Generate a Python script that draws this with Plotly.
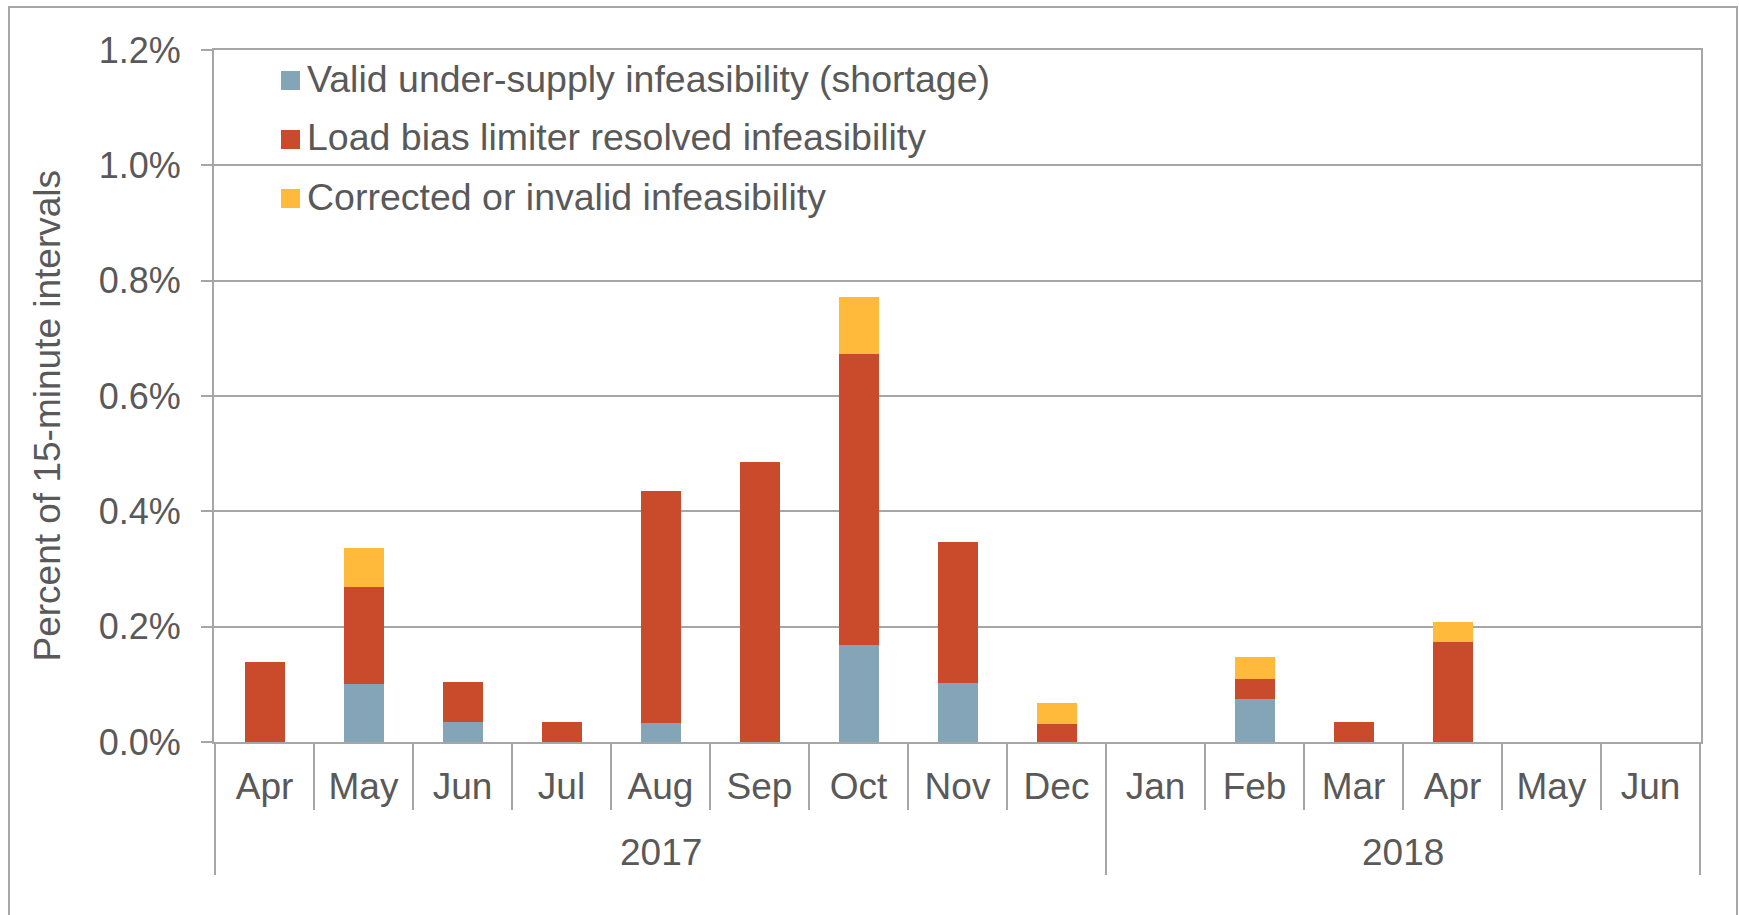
import plotly.graph_objects as go

# Monthly share of 15-minute intervals with infeasibilities (percent)
years = ["2017"] * 9 + ["2018"] * 6
months = ["Apr", "May", "Jun", "Jul", "Aug", "Sep", "Oct", "Nov", "Dec",
          "Jan", "Feb", "Mar", "Apr", "May", "Jun"]
categories = [f"{m} {y}" for m, y in zip(months, years)]

valid_shortage = [0.0, 0.101, 0.034, 0.0, 0.033, 0.0, 0.168, 0.103, 0.0,
                  0.0, 0.075, 0.0, 0.0, 0.0, 0.0]
load_bias = [0.139, 0.168, 0.070, 0.034, 0.403, 0.486, 0.504, 0.243, 0.032,
             0.0, 0.035, 0.034, 0.173, 0.0, 0.0]
corrected_invalid = [0.0, 0.067, 0.0, 0.0, 0.0, 0.0, 0.100, 0.0, 0.035,
                     0.0, 0.037, 0.0, 0.035, 0.0, 0.0]

series_names = ["Valid under-supply infeasibility (shortage)",
                "Load bias limiter resolved infeasibility",
                "Corrected or invalid infeasibility"]
series_colors = ["#84A5B8", "#C94B2B", "#FFB93B"]
series_values = [valid_shortage, load_bias, corrected_invalid]

y_ticks = [0.0, 0.2, 0.4, 0.6, 0.8, 1.0, 1.2]

W, H = 1739, 915
ML, MR, MT, MB = 214, 38, 50, 173
PW, PH = W - ML - MR, H - MT - MB

FONT = "Liberation Sans, Arial, sans-serif"
TXT = "#595959"
GRID = "#A6A6A6"


def px_x(px):
    return (px - ML) / PW


def px_y(py):
    return (H - MB - py) / PH


fig = go.Figure()
for name, color, vals in zip(series_names, series_colors, series_values):
    fig.add_trace(go.Bar(
        x=categories, y=vals, name=name,
        marker=dict(color=color, line=dict(width=0)),
        showlegend=False,
    ))

shapes = []
annotations = []

# Outer chart frame
shapes.append(dict(type="rect", xref="paper", yref="paper",
                   x0=px_x(9), x1=px_x(1737), y0=px_y(925), y1=px_y(7),
                   line=dict(color=GRID, width=2), fillcolor="rgba(0,0,0,0)",
                   layer="below"))

# Year group dividers below the category axis
n = len(categories)
year_bounds = [-0.5] + [i + 0.5 for i in range(n - 1) if years[i] != years[i + 1]] + [n - 0.5]
for xb in year_bounds:
    shapes.append(dict(type="line", xref="x", yref="paper",
                       x0=xb, x1=xb, y0=0, y1=-133 / PH,
                       line=dict(color=GRID, width=2)))

# Year labels centred under their month groups
for a, b in zip(year_bounds[:-1], year_bounds[1:]):
    idx = int(a + 0.5)
    annotations.append(dict(x=(a + b) / 2, y=-110 / PH, xref="x", yref="paper",
                            text=years[idx], showarrow=False,
                            xanchor="center", yanchor="middle",
                            font=dict(family=FONT, size=37, color=TXT)))

# Legend: coloured squares with labels
legend_y = [80.5, 139.5, 198.5]
for name, color, ly in zip(series_names, series_colors, legend_y):
    shapes.append(dict(type="rect", xref="paper", yref="paper",
                       x0=px_x(281), x1=px_x(300), y0=px_y(ly + 9.5), y1=px_y(ly - 9.5),
                       line=dict(width=0), fillcolor=color))
    annotations.append(dict(x=px_x(305), y=px_y(ly - 2), xref="paper", yref="paper",
                            text=name, showarrow=False,
                            xanchor="left", yanchor="middle",
                            font=dict(family=FONT, size=37.5, color=TXT)))

# Vertical axis title
annotations.append(dict(x=px_x(46.5), y=px_y(416), xref="paper", yref="paper",
                        text="Percent of 15-minute intervals", textangle=-90,
                        showarrow=False, xanchor="center", yanchor="middle",
                        font=dict(family=FONT, size=37, color=TXT)))

fig.update_layout(
    width=W, height=H,
    margin=dict(l=ML, r=MR, t=MT, b=MB, autoexpand=False),
    barmode="stack", bargap=0.596,
    paper_bgcolor="white", plot_bgcolor="white",
    font=dict(family=FONT, size=36, color=TXT),
    shapes=shapes, annotations=annotations,
    showlegend=False,
)

fig.update_xaxes(
    type="category", categoryorder="array", categoryarray=categories,
    tickmode="array", tickvals=categories, ticktext=months,
    tickson="boundaries", ticks="outside", ticklen=66, tickwidth=2, tickcolor=GRID,
    ticklabelstandoff=11,
    showline=True, linecolor=GRID, linewidth=2, mirror=True,
    showgrid=False, zeroline=False,
    tickfont=dict(family=FONT, size=37, color=TXT),
)

fig.update_yaxes(
    range=[0, 1.2], tickmode="array", tickvals=y_ticks,
    ticktext=[f"{v:.1f}%" for v in y_ticks],
    ticks="outside", ticklen=11, tickwidth=2, tickcolor=GRID,
    ticklabelstandoff=13,
    showgrid=True, gridcolor=GRID, gridwidth=2,
    showline=True, linecolor=GRID, linewidth=2, mirror=True,
    zeroline=False,
    tickfont=dict(family=FONT, size=36, color=TXT),
)

fig.write_html("out.html")
